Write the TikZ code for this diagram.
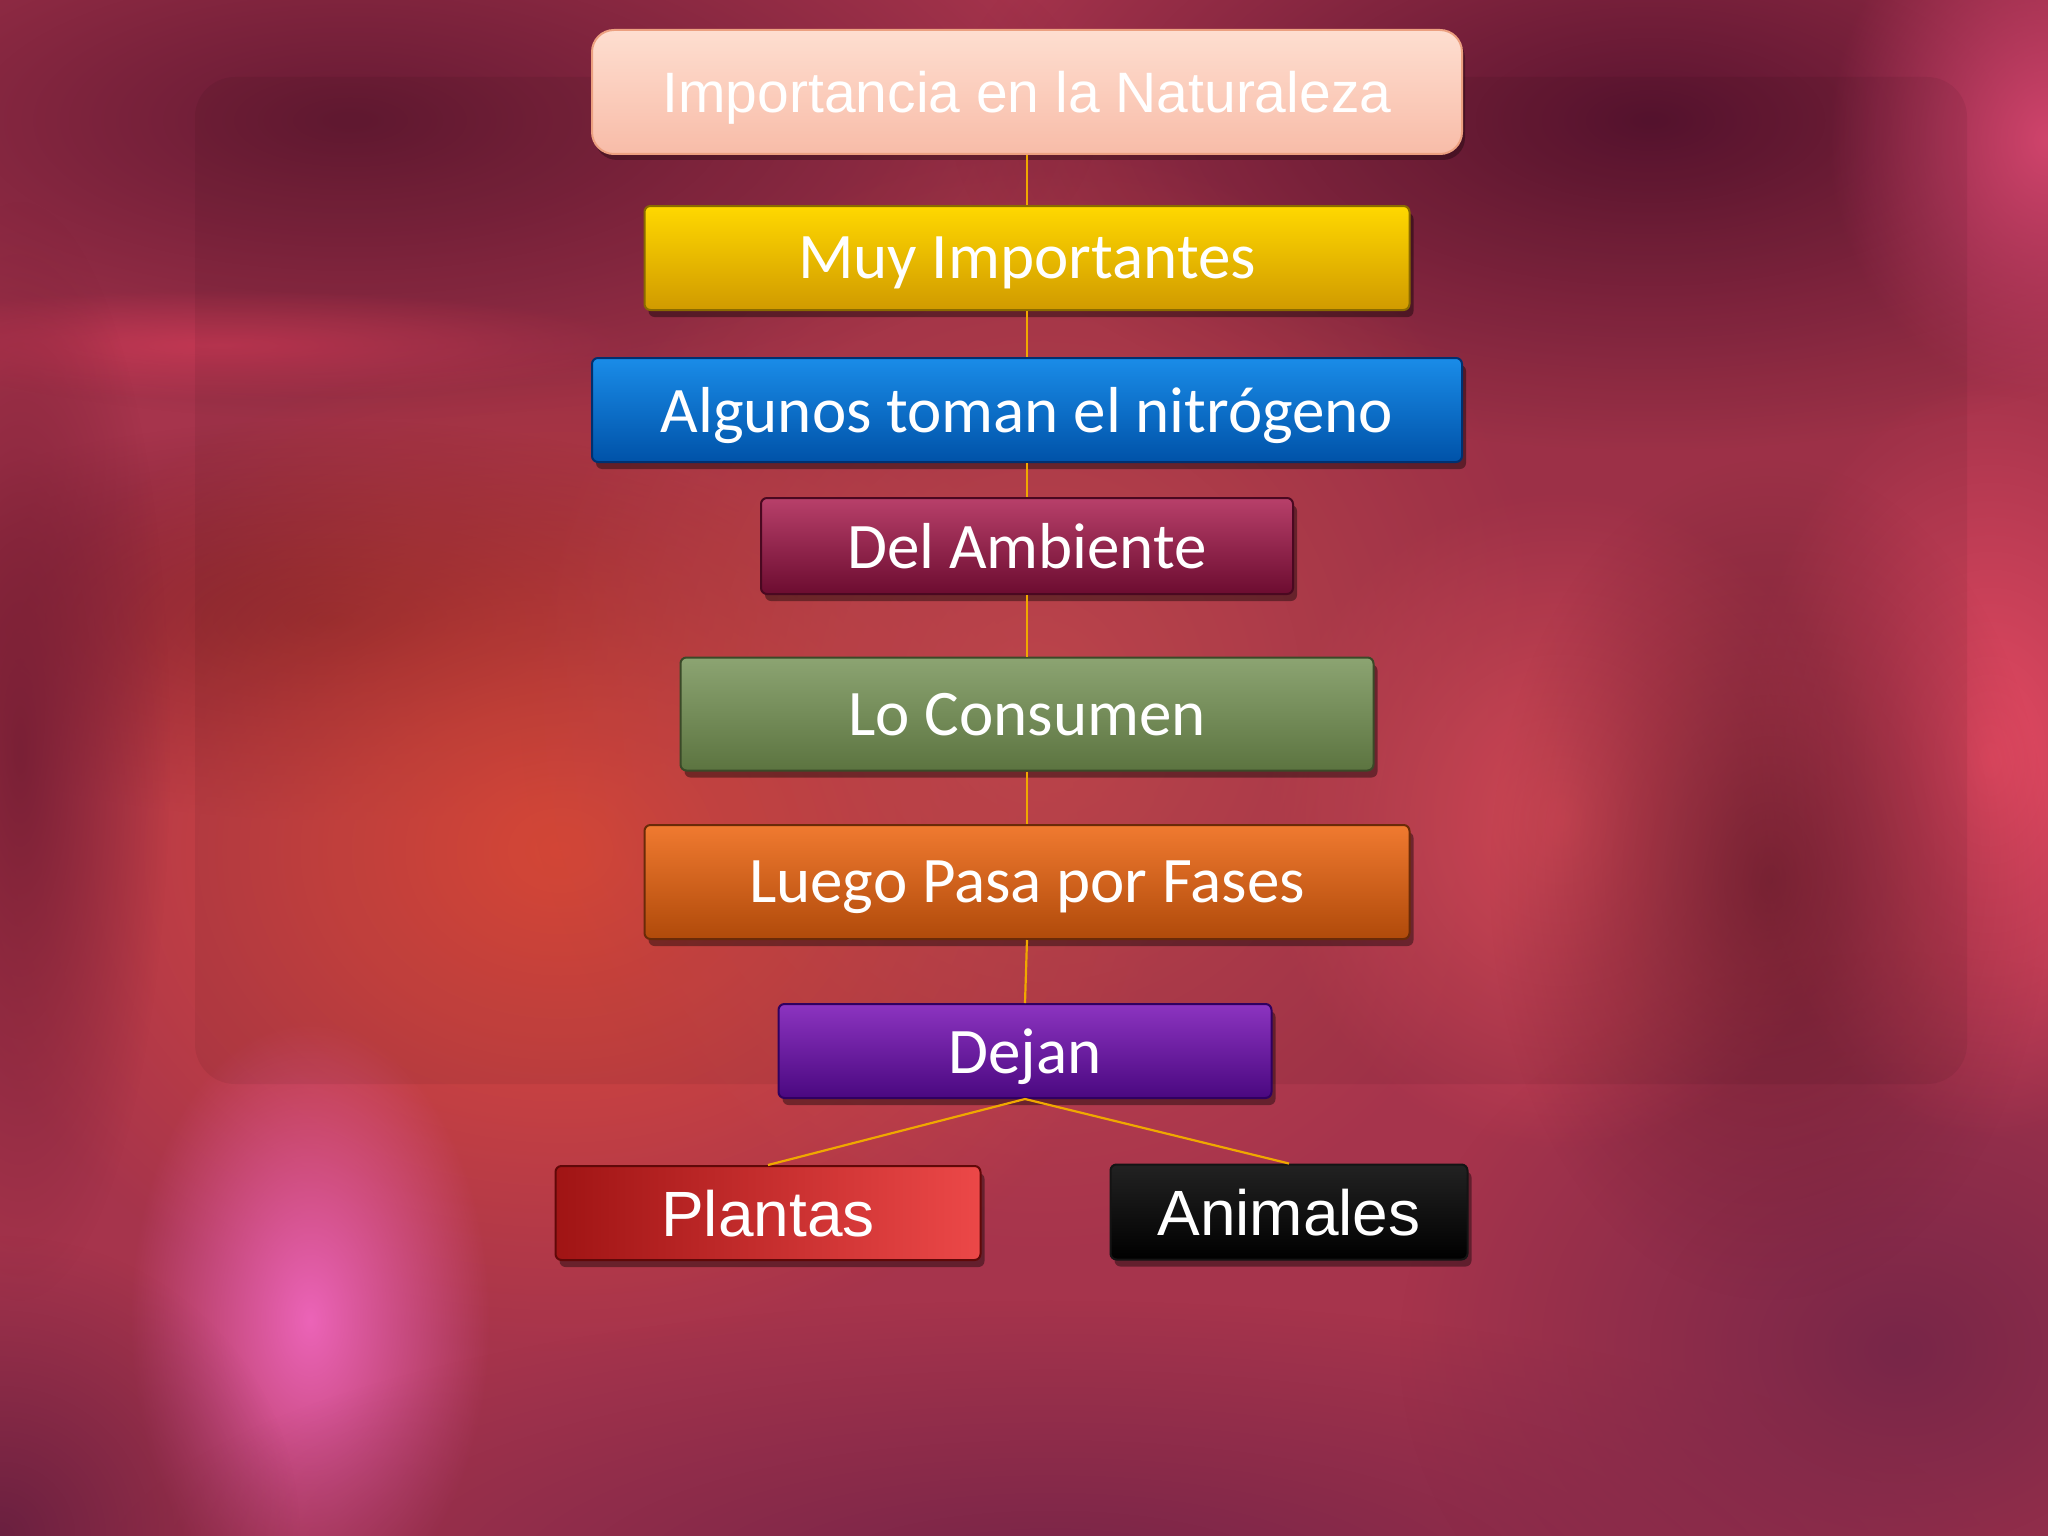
\documentclass[tikz,border=0pt]{standalone}
\usepackage{fontspec}
\setmainfont{Liberation Sans}
\newfontfamily\calib{Carlito}
\usetikzlibrary{shadows,fadings}
\tikzfading[name=blob, inner color=transparent!0, outer color=transparent!100]
\definecolor{bgbase}{HTML}{A6344C}
\definecolor{linegold}{HTML}{F0A800}
\definecolor{toptxt}{HTML}{FFFFFF}
\definecolor{b0}{HTML}{5A1430}
\definecolor{b1}{HTML}{661A34}
\definecolor{b2}{HTML}{CC3A56}
\definecolor{b3}{HTML}{7A1E2C}
\definecolor{b4}{HTML}{E24C3A}
\definecolor{b5}{HTML}{EC64B8}
\definecolor{b6}{HTML}{762448}
\definecolor{b7}{HTML}{E44A62}
\definecolor{b8}{HTML}{E04E5C}
\definecolor{b9}{HTML}{5A1626}
\definecolor{b10}{HTML}{D0446C}
\definecolor{b11}{HTML}{7A2036}
\definecolor{b12}{HTML}{C84A50}
\definecolor{b13}{HTML}{6A2040}
\definecolor{b14}{HTML}{782648}
\definecolor{topA}{HTML}{FEDED0}
\definecolor{topB}{HTML}{F8BCA8}
\definecolor{topC}{HTML}{ECA080}
\definecolor{muyA}{HTML}{FFD800}
\definecolor{muyB}{HTML}{D09A00}
\definecolor{muyC}{HTML}{8A6A00}
\definecolor{algA}{HTML}{1A8CE8}
\definecolor{algB}{HTML}{0052A8}
\definecolor{algC}{HTML}{003070}
\definecolor{delA}{HTML}{B8406A}
\definecolor{delB}{HTML}{6C0C30}
\definecolor{delC}{HTML}{4A0820}
\definecolor{loA}{HTML}{8CA472}
\definecolor{loB}{HTML}{5C7440}
\definecolor{loC}{HTML}{3A4A28}
\definecolor{luA}{HTML}{F07A30}
\definecolor{luB}{HTML}{B04A0A}
\definecolor{luC}{HTML}{6A2A08}
\definecolor{deA}{HTML}{8C34C0}
\definecolor{deB}{HTML}{4A0880}
\definecolor{deC}{HTML}{300060}
\definecolor{plA}{HTML}{A01414}
\definecolor{plM}{HTML}{DC3A3A}
\definecolor{plB}{HTML}{EC4848}
\definecolor{plC}{HTML}{600808}
\definecolor{anA}{HTML}{222222}
\definecolor{anB}{HTML}{000000}
\definecolor{anC}{HTML}{141414}
\tikzset{
  blobfill/.style={fill=#1, path fading=blob},
  cbox/.style n args={3}{rectangle, rounded corners=6pt, inner sep=0pt,
     top color=#1, bottom color=#2, draw=#3, line width=2pt,
     drop shadow={shadow xshift=4pt, shadow yshift=-7pt, opacity=0.4, fill=black},
     text=white, text depth=0pt},
  calibtxt/.style={font=\calib\fontsize{65}{78}\selectfont},
  ariatxt/.style={font=\fontsize{64}{76}\selectfont},
  conn/.style={draw=linegold, line width=2.2pt}
}
\begin{document}
\begin{tikzpicture}[x=1pt,y=-1pt]
\useasboundingbox (0,0) rectangle (2048,1536);
% ---------- background ----------
\fill[bgbase] (0,0) rectangle (2048,1536);
\fill[blobfill=b0] (1650,120) ellipse (700 and 330);
\fill[blobfill=b1] (350,120) ellipse (750 and 300);
\fill[blobfill=b2, fill opacity=.8] (220,345) ellipse (420 and 55);
\fill[blobfill=b3] (330,620) ellipse (520 and 200);
\fill[blobfill=b4] (560,850) ellipse (620 and 500);
\fill[blobfill=b5] (310,1320) ellipse (180 and 300);
\fill[blobfill=b6] (1050,1580) ellipse (950 and 280);
\fill[blobfill=b14] (1900,1350) ellipse (500 and 400);
\fill[blobfill=b7] (1990,760) ellipse (250 and 380);
\fill[blobfill=b8] (1560,820) ellipse (300 and 330);
\fill[blobfill=b9, fill opacity=.6] (1770,880) ellipse (280 and 420);
\fill[blobfill=b10] (2048,140) ellipse (220 and 260);
\fill[blobfill=b11] (20,750) ellipse (150 and 550);
\fill[blobfill=b12] (1040,700) ellipse (520 and 560);
\fill[blobfill=b13] (0,1536) ellipse (300 and 300);
\fill[black, opacity=0.06, rounded corners=40pt] (195,77) rectangle (1967,1084);
% ---------- nodes ----------
\node[rectangle, rounded corners=22pt, inner sep=0pt,
      top color=topA, bottom color=topB, draw=topC, line width=2pt,
      drop shadow={shadow xshift=3pt, shadow yshift=-6pt, opacity=0.3, fill=black},
      minimum width=870pt, minimum height=124pt, text=toptxt, text depth=0pt,
      font=\fontsize{57}{68}\selectfont] (top) at (1027,92) {Importancia en la Naturaleza};
\node[cbox={muyA}{muyB}{muyC}, minimum width=765pt, minimum height=104pt, calibtxt] (muy) at (1027,258) {Muy Importantes};
\node[cbox={algA}{algB}{algC}, minimum width=870pt, minimum height=104pt, calibtxt] (alg) at (1027,410) {Algunos toman el nitrógeno};
\node[cbox={delA}{delB}{delC}, minimum width=532pt, minimum height=96pt, calibtxt] (del) at (1027,546) {Del Ambiente};
\node[cbox={loA}{loB}{loC}, minimum width=693pt, minimum height=113pt, calibtxt] (lo) at (1027,714) {Lo Consumen};
\node[cbox={luA}{luB}{luC}, minimum width=765pt, minimum height=114pt, calibtxt] (luego) at (1027,882) {Luego Pasa por Fases};
\node[cbox={deA}{deB}{deC}, minimum width=493pt, minimum height=94pt, calibtxt] (dejan) at (1025,1051) {Dejan};
\node[cbox={plA}{plB}{plC}, left color=plA, middle color=plM, right color=plB,
      minimum width=425pt, minimum height=94pt, ariatxt] (plantas) at (768,1213) {Plantas};
\node[cbox={anA}{anB}{anC}, minimum width=357pt, minimum height=95pt, ariatxt] (animales) at (1289,1212) {Animales};
% ---------- connectors ----------
\draw[conn] (top.south) -- (muy.north);
\draw[conn] (muy.south) -- (alg.north);
\draw[conn] (alg.south) -- (del.north);
\draw[conn] (del.south) -- (lo.north);
\draw[conn] (lo.south) -- (luego.north);
\draw[conn] (luego.south) -- (dejan.north);
\draw[conn] (dejan.south) -- (plantas.north);
\draw[conn] (dejan.south) -- (animales.north);
\end{tikzpicture}
\end{document}
